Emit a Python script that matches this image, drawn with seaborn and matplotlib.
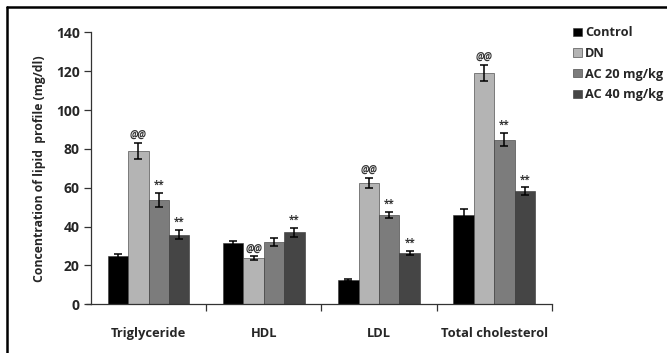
import matplotlib
matplotlib.use("Agg")
import matplotlib.pyplot as plt
from matplotlib.lines import Line2D
from matplotlib.ticker import FixedLocator
import seaborn as sns
import pandas as pd
import numpy as np

categories = ["Triglyceride", "HDL", "LDL", "Total cholesterol"]
groups = ["Control", "DN", "AC 20 mg/kg", "AC 40 mg/kg"]
control = [24.8, 31.4, 12.5, 46.0]
dn = [79.0, 23.7, 62.6, 119.0]
ac20 = [53.7, 32.2, 46.0, 84.8]
ac40 = [35.8, 37.0, 26.6, 58.3]
control_err = [1.0, 1.0, 0.4, 3.0]
dn_err = [4.2, 1.0, 2.6, 4.3]
ac20_err = [3.5, 2.0, 1.6, 3.4]
ac40_err = [2.4, 2.5, 1.0, 1.9]
control_sig = ["", "", "", ""]
dn_sig = ["@@", "@@", "@@", "@@"]
ac20_sig = ["**", "", "**", "**"]
ac40_sig = ["**", "**", "**", "**"]
colors = ["#000000", "#b4b4b4", "#7c7c7c", "#454545"]

values = [control, dn, ac20, ac40]
errs = [control_err, dn_err, ac20_err, ac40_err]
sigs = [control_sig, dn_sig, ac20_sig, ac40_sig]

rows = []
for g, vals in zip(groups, values):
    for c, v in zip(categories, vals):
        rows.append({"category": c, "group": g, "value": v})
df = pd.DataFrame(rows)

sns.set_style("white")
plt.rcParams["font.family"] = ["Open Sans", "DejaVu Sans"]
plt.rcParams["font.weight"] = "bold"

fig = plt.figure(figsize=(6.67, 3.53), dpi=100)
ax = fig.add_axes([0.1364, 0.138, 0.691, 0.7705])

sns.barplot(data=df, x="category", y="value", hue="group", order=categories,
            hue_order=groups, palette=colors, width=0.71, errorbar=None,
            edgecolor="#333333", linewidth=0.4, ax=ax, legend=True)

for cont, err, sig in zip(ax.containers, errs, sigs):
    xs = [p.get_x() + p.get_width() / 2 for p in cont.patches]
    hs = [p.get_height() for p in cont.patches]
    ax.errorbar(xs, hs, yerr=err, fmt="none", ecolor="black", elinewidth=1.1,
                capsize=3, capthick=1.1)
    for x, h, e, s in zip(xs, hs, err, sig):
        if s:
            ax.text(x, h + e + 1.0, s, ha="center", va="bottom", fontsize=7,
                    fontweight="bold", color="#333333",
                    fontstyle="italic" if s.startswith("@") else "normal")

ax.set_ylim(0, 140)
ax.set_xlim(-0.5, 3.5)
ax.set_yticks(np.arange(0, 141, 20))
ax.set_ylabel("Concentration of lipid  profile (mg/dl)", fontsize=8.8, fontweight="bold", labelpad=7)
ax.set_xlabel("")
for s in ["top", "right"]:
    ax.spines[s].set_visible(False)
for s in ["left", "bottom"]:
    ax.spines[s].set_color("#333333")
    ax.spines[s].set_linewidth(0.9)
ax.tick_params(axis="y", which="major", left=True, length=5, width=0.9, color="#333333",
               labelsize=10, pad=3)
ax.tick_params(axis="x", which="major", bottom=False, length=0, labelsize=9.3, pad=16)
ax.xaxis.set_minor_locator(FixedLocator([0.5, 1.5, 2.5, 3.5]))
ax.tick_params(axis="x", which="minor", bottom=True, length=5, width=0.9, color="#333333")
for lab in ax.get_xticklabels() + ax.get_yticklabels():
    lab.set_fontweight("bold")
# small extension of the x-axis line to the left of the y-axis
ax.plot([-0.545, -0.5], [0, 0], color="#333333", linewidth=0.9, clip_on=False)

handles, labels = ax.get_legend_handles_labels()
ax.get_legend().remove()
fig.legend(handles, labels, loc="upper left", bbox_to_anchor=(0.852, 0.94),
           frameon=False, prop={"weight": "bold", "size": 9.2}, handlelength=0.65,
           handleheight=0.65, handletextpad=0.25, labelspacing=0.6, borderaxespad=0)

fig.add_artist(Line2D([7 / 667, 1.0], [1 - 7 / 353, 1 - 7 / 353], transform=fig.transFigure,
                      color="black", linewidth=1.8))
fig.add_artist(Line2D([7 / 667, 7 / 667], [0.0, 1 - 7 / 353], transform=fig.transFigure,
                      color="black", linewidth=1.8))

fig.savefig("out.png", dpi=100)
